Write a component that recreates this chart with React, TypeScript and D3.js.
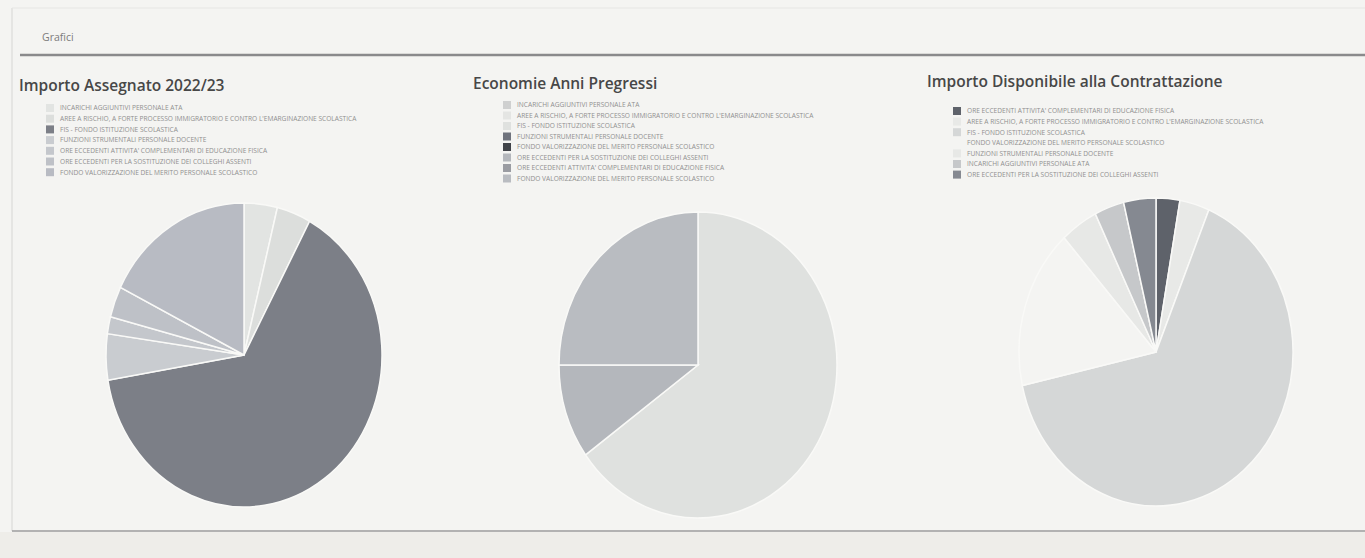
import React, { useRef, useEffect } from 'react';
import * as d3 from 'd3';

// Chart data (shares in %)
const pie1Title = 'Importo Assegnato 2022/23';
const pie1Labels = [
  'INCARICHI AGGIUNTIVI PERSONALE ATA',
  "AREE A RISCHIO, A FORTE PROCESSO IMMIGRATORIO E CONTRO L'EMARGINAZIONE SCOLASTICA",
  'FIS - FONDO ISTITUZIONE SCOLASTICA',
  'FUNZIONI STRUMENTALI PERSONALE DOCENTE',
  "ORE ECCEDENTI ATTIVITA' COMPLEMENTARI DI EDUCAZIONE FISICA",
  'ORE ECCEDENTI PER LA SOSTITUZIONE DEI COLLEGHI ASSENTI',
  'FONDO VALORIZZAZIONE DEL MERITO PERSONALE SCOLASTICO',
];
const pie1Values = [3.9, 4.0, 64.6, 4.9, 1.8, 3.3, 17.7];

const pie2Title = 'Economie Anni Pregressi';
const pie2Labels = [
  'INCARICHI AGGIUNTIVI PERSONALE ATA',
  "AREE A RISCHIO, A FORTE PROCESSO IMMIGRATORIO E CONTRO L'EMARGINAZIONE SCOLASTICA",
  'FIS - FONDO ISTITUZIONE SCOLASTICA',
  'FUNZIONI STRUMENTALI PERSONALE DOCENTE',
  'FONDO VALORIZZAZIONE DEL MERITO PERSONALE SCOLASTICO',
  'ORE ECCEDENTI PER LA SOSTITUZIONE DEI COLLEGHI ASSENTI',
  "ORE ECCEDENTI ATTIVITA' COMPLEMENTARI DI EDUCAZIONE FISICA",
  'FONDO VALORIZZAZIONE DEL MERITO PERSONALE SCOLASTICO',
];
const pie2Values = [0, 0, 65.0, 0, 0, 10.0, 0, 25.0];

const pie3Title = 'Importo Disponibile alla Contrattazione';
const pie3Labels = [
  "ORE ECCEDENTI ATTIVITA' COMPLEMENTARI DI EDUCAZIONE FISICA",
  "AREE A RISCHIO, A FORTE PROCESSO IMMIGRATORIO E CONTRO L'EMARGINAZIONE SCOLASTICA",
  'FIS - FONDO ISTITUZIONE SCOLASTICA',
  'FONDO VALORIZZAZIONE DEL MERITO PERSONALE SCOLASTICO',
  'FUNZIONI STRUMENTALI PERSONALE DOCENTE',
  'INCARICHI AGGIUNTIVI PERSONALE ATA',
  'ORE ECCEDENTI PER LA SOSTITUZIONE DEI COLLEGHI ASSENTI',
];
const pie3Values = [2.8, 3.5, 65.2, 16.8, 4.4, 3.5, 3.8];

// Palettes (the photo is almost greyscale)
const pie1Colors = ['#e2e4e2', '#dcdedc', '#7c7f87', '#c9ccd0', '#c4c7cc', '#bec1c7', '#b8bbc3'];
const pie2Colors = ['#cfd0d0', '#e4e5e3', '#dfe1df', '#6f737d', '#404349', '#b4b7bc', '#9a9ca2', '#b9bcc1'];
const pie3Colors = ['#5e626a', '#e8e9e7', '#d5d7d7', '#f4f4f2', '#e7e8e6', '#c6c8ca', '#858991'];

const W = 1365;
const H = 558;

type PieSpec = {
  title: string;
  labels: string[];
  values: number[];
  colors: string[];
  titleX: number;
  titleY: number;
  legendX: number;
  legendY: number;
  legendStep: number;
  cx: number;
  cy: number;
  rx: number;
  ry: number;
};

const App: React.FC = () => {
  const svgRef = useRef<SVGSVGElement>(null);

  useEffect(() => {
    if (!svgRef.current) return;
    const svg = d3.select(svgRef.current);
    svg.selectAll('*').remove();

    // page background
    svg.append('rect').attr('width', W).attr('height', H).attr('fill', '#f4f4f2');
    svg.append('rect').attr('x', 0).attr('y', 532).attr('width', W).attr('height', H - 532).attr('fill', '#eeede9');

    // panel frame
    svg.append('line')
      .attr('x1', 12).attr('x2', 12).attr('y1', 8).attr('y2', 531)
      .attr('stroke', '#d6d6d4').attr('stroke-width', 1);
    svg.append('line')
      .attr('x1', 12).attr('x2', W).attr('y1', 8).attr('y2', 8)
      .attr('stroke', '#e6e6e4').attr('stroke-width', 1);
    svg.append('line')
      .attr('x1', 12).attr('x2', W).attr('y1', 531).attr('y2', 531)
      .attr('stroke', '#9c9c9c').attr('stroke-width', 1.5);

    // header
    svg.append('text')
      .attr('x', 42).attr('y', 41)
      .attr('font-family', 'Open Sans, sans-serif')
      .attr('font-size', '10.5px')
      .attr('fill', '#7b7b7b')
      .text('Grafici');
    svg.append('line')
      .attr('x1', 20).attr('x2', W).attr('y1', 55).attr('y2', 55)
      .attr('stroke', '#8a8a8c').attr('stroke-width', 2.5);

    const specs: PieSpec[] = [
      { title: pie1Title, labels: pie1Labels, values: pie1Values, colors: pie1Colors,
        titleX: 19, titleY: 91, legendX: 46, legendY: 108, legendStep: 10.7,
        cx: 244, cy: 355, rx: 138, ry: 152 },
      { title: pie2Title, labels: pie2Labels, values: pie2Values, colors: pie2Colors,
        titleX: 473, titleY: 89, legendX: 503, legendY: 105, legendStep: 10.5,
        cx: 698, cy: 365, rx: 139, ry: 153 },
      { title: pie3Title, labels: pie3Labels, values: pie3Values, colors: pie3Colors,
        titleX: 927, titleY: 87, legendX: 953, legendY: 111, legendStep: 10.6,
        cx: 1156, cy: 352, rx: 137, ry: 154 },
    ];

    specs.forEach(spec => {
      const g = svg.append('g');

      // title
      g.append('text')
        .attr('x', spec.titleX).attr('y', spec.titleY)
        .attr('font-family', 'Open Sans, sans-serif')
        .attr('font-size', '15.5px')
        .attr('font-weight', 600)
        .attr('fill', '#474747')
        .text(spec.title);

      // legend
      const color = d3.scaleOrdinal<number, string>()
        .domain(d3.range(spec.labels.length))
        .range(spec.colors);
      const legendY = d3.scaleLinear()
        .domain([0, 1])
        .range([spec.legendY, spec.legendY + spec.legendStep]);

      const rows = g.append('g').selectAll('g')
        .data(spec.labels)
        .join('g')
        .attr('transform', (_, i) => `translate(${spec.legendX},${legendY(i)})`);
      rows.append('rect')
        .attr('x', 0).attr('y', -4)
        .attr('width', 8).attr('height', 8)
        .attr('fill', (_, i) => color(i));
      rows.append('text')
        .attr('x', 14).attr('y', 2.3)
        .attr('font-family', 'Open Sans, sans-serif')
        .attr('font-size', '6.6px')
        .attr('fill', '#8f8f8f')
        .text(d => d);

      // pie (slightly stretched vertically, as in the photo)
      const pie = d3.pie<number>().sort(null).value(d => d);
      const arcs = pie(spec.values);
      const arc = d3.arc<d3.PieArcDatum<number>>().innerRadius(0).outerRadius(spec.rx);

      g.append('g')
        .attr('transform', `translate(${spec.cx},${spec.cy}) scale(1,${spec.ry / spec.rx})`)
        .selectAll('path')
        .data(arcs.filter(a => a.value > 0))
        .join('path')
        .attr('d', arc)
        .attr('fill', d => color(d.index))
        .attr('stroke', '#f9f9f7')
        .attr('stroke-width', 1.5)
        .attr('vector-effect', 'non-scaling-stroke');
    });
  }, []);

  return (
    <div style={{ position: 'fixed', left: 0, top: 0 }}>
      <svg ref={svgRef} width={W} height={H} style={{ display: 'block' }} />
    </div>
  );
};

export default App;
